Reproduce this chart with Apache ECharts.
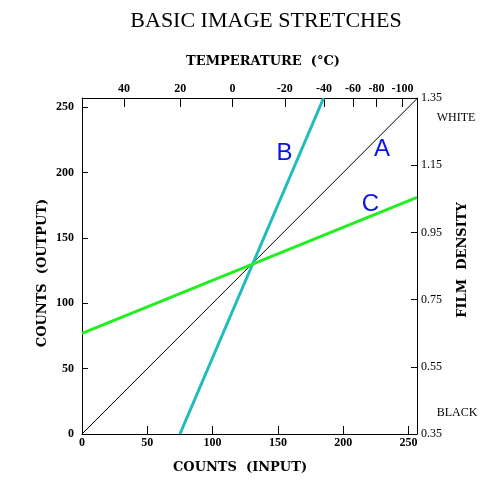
<!DOCTYPE html>
<html><head><meta charset="utf-8">
<script src="https://cdn.jsdelivr.net/npm/echarts@6/dist/echarts.min.js"></script>
<style>html,body{margin:0;padding:0;background:#fff}#c{width:485px;height:492px}</style>
</head><body><div id="c"></div>
<script>
// Data
const countTicks = [0, 50, 100, 150, 200, 250];
const tempLabels = [40, 20, 0, -20, -40, -60, -80, -100];
const tempCounts = [32, 75, 115, 155, 185, 207, 225, 245];
const densityTicks = [0.35, 0.55, 0.75, 0.95, 1.15, 1.35];
const lineA = [[0, 0], [256.5, 256.5]];
const lineB = [[75, 0], [185, 257]];
const lineC = [[0, 77], [256.5, 181]];

// top axis categories: one per count level 0..256
const countLevels = Array.from({length: 257}, (_, i) => i);

const serif = '"Liberation Serif", "DejaVu Serif", serif';
const wideSerif = '"DejaVu Serif", serif';
const chart = echarts.init(document.getElementById('c'), null, {renderer: 'canvas'});
const axisLine = {show: true, lineStyle: {color: '#000', width: 1}};
const tickLbl = {color: '#000', fontFamily: serif, fontSize: 12, fontWeight: 'bold'};
const isTempTick = (idx) => tempCounts.indexOf(idx) >= 0;

chart.setOption({
  animation: false,
  backgroundColor: '#fff',
  grid: {left: 82, right: 68, top: 98, bottom: 58, containLabel: false},
  xAxis: [
    {type: 'value', position: 'bottom', min: 0, max: 256.5, interval: 50,
     axisLine, splitLine: {show: false},
     axisTick: {show: true, inside: true, length: 8, lineStyle: {color: '#000'}},
     axisLabel: Object.assign({margin: 3, showMinLabel: true, showMaxLabel: false}, tickLbl)},
    {type: 'category', position: 'top', data: countLevels, boundaryGap: false,
     axisLine, splitLine: {show: false},
     axisTick: {show: true, inside: true, length: 9, interval: isTempTick, lineStyle: {color: '#000'}},
     axisLabel: Object.assign({margin: 3, interval: isTempTick,
       formatter: (v) => { const i = tempCounts.indexOf(Number(v)); return i >= 0 ? String(tempLabels[i]) : ''; }}, tickLbl)}
  ],
  yAxis: [
    {type: 'value', position: 'left', min: 0, max: 257, interval: 50,
     axisLine, splitLine: {show: false},
     axisTick: {show: true, inside: true, length: 6, lineStyle: {color: '#000'}},
     axisLabel: Object.assign({margin: 8, showMinLabel: true, showMaxLabel: false}, tickLbl)},
    {type: 'value', position: 'right', min: 0.35, max: 1.35, interval: 0.2,
     axisLine, splitLine: {show: false},
     axisTick: {show: true, inside: true, length: 6, lineStyle: {color: '#000'}},
     axisLabel: Object.assign({margin: 4, showMinLabel: true, showMaxLabel: true,
       formatter: v => Number(v).toFixed(2)}, tickLbl, {fontWeight: 'normal'})}
  ],
  series: [
    {type: 'line', data: lineA, xAxisIndex: 0, yAxisIndex: 0, symbol: 'none',
     lineStyle: {color: '#000', width: 1}},
    {type: 'line', data: lineB, xAxisIndex: 0, yAxisIndex: 0, symbol: 'none',
     lineStyle: {color: '#1fbcbc', width: 3}},
    {type: 'line', data: lineC, xAxisIndex: 0, yAxisIndex: 0, symbol: 'none',
     lineStyle: {color: '#22ee22', width: 3}}
  ],
  graphic: [
    {type: 'text', x: 266, y: 21, style: {text: 'BASIC IMAGE STRETCHES', fill: '#000', font: '22px ' + serif, align: 'center', verticalAlign: 'middle'}},
    {type: 'text', x: 263, y: 62, style: {text: 'TEMPERATURE  (°C)', fill: '#000', font: 'bold 13px ' + wideSerif, align: 'center', verticalAlign: 'middle'}},
    {type: 'text', x: 240, y: 468, style: {text: 'COUNTS  (INPUT)', fill: '#000', font: 'bold 13px ' + wideSerif, align: 'center', verticalAlign: 'middle'}},
    {type: 'text', x: 43, y: 273, rotation: Math.PI / 2, style: {text: 'COUNTS  (OUTPUT)', fill: '#000', font: 'bold 13px ' + wideSerif, align: 'center', verticalAlign: 'middle'}},
    {type: 'text', x: 463, y: 260, rotation: Math.PI / 2, style: {text: 'FILM  DENSITY', fill: '#000', font: 'bold 13px ' + wideSerif, align: 'center', verticalAlign: 'middle'}},
    {type: 'text', x: 456, y: 118, style: {text: 'WHITE', fill: '#000', font: '12px ' + serif, align: 'center', verticalAlign: 'middle'}},
    {type: 'text', x: 457, y: 413, style: {text: 'BLACK', fill: '#000', font: '12px ' + serif, align: 'center', verticalAlign: 'middle'}},
    {type: 'text', x: 284.5, y: 153, style: {text: 'B', fill: '#0a14e6', font: '24px "Liberation Sans", Arial, sans-serif', align: 'center', verticalAlign: 'middle'}},
    {type: 'text', x: 382, y: 149, style: {text: 'A', fill: '#0a14e6', font: '24px "Liberation Sans", Arial, sans-serif', align: 'center', verticalAlign: 'middle'}},
    {type: 'text', x: 370.5, y: 204, style: {text: 'C', fill: '#0a14e6', font: '24px "Liberation Sans", Arial, sans-serif', align: 'center', verticalAlign: 'middle'}}
  ]
});
</script></body></html>
